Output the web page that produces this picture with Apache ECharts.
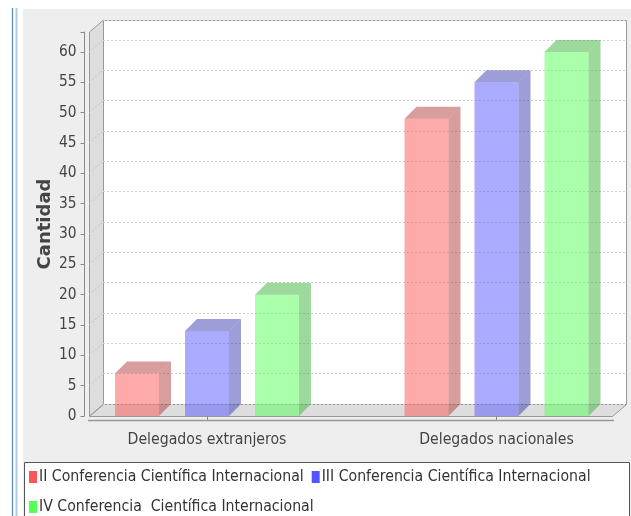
<!DOCTYPE html>
<html>
<head>
<meta charset="utf-8">
<script src="https://cdn.jsdelivr.net/npm/echarts@6/dist/echarts.min.js"></script>
<style>
  html, body { margin: 0; padding: 0; background: #ffffff; }
  #chart { width: 631px; height: 516px; }
</style>
</head>
<body>
<div id="chart"></div>
<script>
// Categories and values per conference
const categories = ['Delegados extranjeros', 'Delegados nacionales'];
const seriesNames = [
  'II Conferencia Científica Internacional',
  'III Conferencia Científica Internacional',
  'IV Conferencia  Científica Internacional'
];
const conferenceII = [7, 49];
const conferenceIII = [14, 55];
const conferenceIV = [20, 60];
const yTicks = [0, 5, 10, 15, 20, 25, 30, 35, 40, 45, 50, 55, 60];

const seriesValues = [conferenceII, conferenceIII, conferenceIV];
const baseColors = ['#ff5555', '#5555ff', '#55ff55'];
const frontColors = ['rgba(255,85,85,0.5)', 'rgba(85,85,255,0.5)', 'rgba(85,255,85,0.5)'];
const shadeColors = ['rgba(178,59,59,0.5)', 'rgba(59,59,178,0.5)', 'rgba(59,178,59,0.5)'];

const FONT = 'DejaVu Sans Condensed';
const BAR_W = 44;       // front face width
const DEPTH_X = 12;     // 3D depth offsets of the bars
const DEPTH_Y = 12;
const WALL_X = 14;      // 3D depth offsets of the walls
const barOffsets = [-92, -22, 48];

// Plot frame (front plane)
const FL = 89, FR = 613, FT = 32, FB = 416;

function bar3d(si) {
  return function (params, api) {
    const cat = api.value(0);
    const val = api.value(1);
    const base = api.coord([cat, 0]);
    const top = api.coord([cat, val]);
    const x = base[0] + barOffsets[si];
    const y0 = base[1], y1 = top[1];
    return {
      type: 'group',
      children: [
        { type: 'rect', shape: { x: x, y: y1, width: BAR_W, height: y0 - y1 },
          style: { fill: frontColors[si] } },
        { type: 'polygon', shape: { points: [[x + BAR_W, y1], [x + BAR_W + DEPTH_X, y1 - DEPTH_Y],
            [x + BAR_W + DEPTH_X, y0 - DEPTH_Y], [x + BAR_W, y0]] },
          style: { fill: shadeColors[si] } },
        { type: 'polygon', shape: { points: [[x, y1], [x + DEPTH_X, y1 - DEPTH_Y],
            [x + BAR_W + DEPTH_X, y1 - DEPTH_Y], [x + BAR_W, y1]] },
          style: { fill: shadeColors[si] } }
      ]
    };
  };
}

const chart = echarts.init(document.getElementById('chart'), null, { renderer: 'canvas' });

const series = seriesValues.map((vals, si) => ({
  name: seriesNames[si],
  type: 'custom',
  xAxisIndex: 0,
  yAxisIndex: 0,
  itemStyle: { color: baseColors[si] },
  renderItem: bar3d(si),
  data: vals.map((v, i) => [i, v]),
  z: 3
}));

// Dotted guide lines across the left wall at each tick
series.push({
  type: 'custom',
  xAxisIndex: 1,
  yAxisIndex: 1,
  silent: true,
  renderItem: function (params, api) {
    const p = api.coord([0, api.value(1)]);
    const yb = p[1];
    return {
      type: 'line',
      shape: { x1: FL, y1: yb + DEPTH_Y, x2: FL + WALL_X, y2: yb },
      style: { stroke: '#c4c4c4', lineWidth: 1, lineDash: [2, 2] }
    };
  },
  data: yTicks.slice(1).map(v => [0, v]),
  z: 1
});

const option = {
  animation: false,
  backgroundColor: '#ffffff',
  textStyle: { fontFamily: FONT },
  graphic: [
    { type: 'line', z: -20, shape: { x1: 12.5, y1: 8, x2: 12.5, y2: 516 }, style: { stroke: '#5b8eb6', lineWidth: 1.3 } },
    { type: 'line', z: -20, shape: { x1: 16.5, y1: 8, x2: 16.5, y2: 516 }, style: { stroke: '#b3c9dc', lineWidth: 2 } },
    { type: 'rect', z: -20, shape: { x: 23, y: 9, width: 608, height: 507 }, style: { fill: '#eeeeee' } },
    // back wall
    { type: 'rect', z: -10, shape: { x: FL + WALL_X + 0.5, y: FT - DEPTH_Y + 0.5, width: FR - FL - 1, height: FB - FT },
      style: { fill: '#ffffff', stroke: '#999999', lineWidth: 1 } },
    // left wall
    { type: 'polygon', z: -9, shape: { points: [[FL + 0.5, FT], [FL + WALL_X + 0.5, FT - DEPTH_Y], [FL + WALL_X + 0.5, FB - DEPTH_Y], [FL + 0.5, FB]] },
      style: { fill: '#dddddd', stroke: '#999999', lineWidth: 1 } },
    // floor
    { type: 'polygon', z: -9, shape: { points: [[FL + 0.5, FB + 0.5], [FL + WALL_X + 0.5, FB - DEPTH_Y + 0.5], [FR + WALL_X - 0.5, FB - DEPTH_Y + 0.5], [FR - 0.5, FB + 0.5]] },
      style: { fill: '#dddddd', stroke: '#999999', lineWidth: 1 } },
    // category axis line
    { type: 'line', z: -9, shape: { x1: FL - 1, y1: 420.5, x2: FR + 1, y2: 420.5 }, style: { stroke: '#999999', lineWidth: 1.5 } },
    // legend frame
    { type: 'rect', z: -9, shape: { x: 24.5, y: 462.5, width: 605, height: 70 }, style: { fill: '#ffffff', stroke: '#555555', lineWidth: 1 } }
  ],
  legend: {
    left: 29,
    top: 466,
    width: 600,
    itemWidth: 8,
    itemHeight: 12,
    itemGap: 8,
    icon: 'rect',
    padding: 0,
    data: seriesNames,
    textStyle: { fontFamily: FONT, fontSize: 15.7, color: '#333333', lineHeight: 22, padding: [0, 0, 0, -3] }
  },
  grid: [
    { left: 207, right: 631 - 496.5, top: FT, bottom: 516 - FB },
    { left: FL + WALL_X, right: 631 - (FR + WALL_X), top: FT - DEPTH_Y, bottom: 516 - (FB - DEPTH_Y) }
  ],
  xAxis: [
    {
      gridIndex: 0,
      type: 'category',
      data: categories,
      boundaryGap: false,
      offset: 4.5,
      axisLine: { show: false },
      axisTick: { show: true, length: 4, lineStyle: { color: '#888888' } },
      axisLabel: { margin: 11, fontFamily: FONT, fontSize: 15.7, color: '#444444' },
      splitLine: { show: false }
    },
    { gridIndex: 1, type: 'category', data: [''], show: false }
  ],
  yAxis: [
    {
      gridIndex: 0,
      type: 'value',
      min: 0,
      max: 63.3,
      interval: 5,
      offset: 207 - 84.5,
      name: 'Cantidad',
      nameLocation: 'middle',
      nameRotate: 90,
      nameGap: 30,
      nameTextStyle: { fontFamily: 'DejaVu Sans', fontWeight: 'bold', fontSize: 18, color: '#444444' },
      axisLine: { show: true, lineStyle: { color: '#888888' } },
      axisTick: { show: true, length: 4, lineStyle: { color: '#888888' } },
      axisLabel: { margin: 8, fontFamily: FONT, fontSize: 15.3, color: '#444444',
        formatter: v => (yTicks.indexOf(v) >= 0 ? String(v) : '') },
      splitLine: { show: false }
    },
    {
      gridIndex: 1,
      type: 'value',
      min: 0,
      max: 63.3,
      interval: 5,
      axisLine: { show: false },
      axisTick: { show: false },
      axisLabel: { show: false },
      splitLine: { show: true, lineStyle: { color: '#d0d0d0', type: [2, 2], width: 1 } }
    }
  ],
  series: series
};

chart.setOption(option);
</script>
</body>
</html>
